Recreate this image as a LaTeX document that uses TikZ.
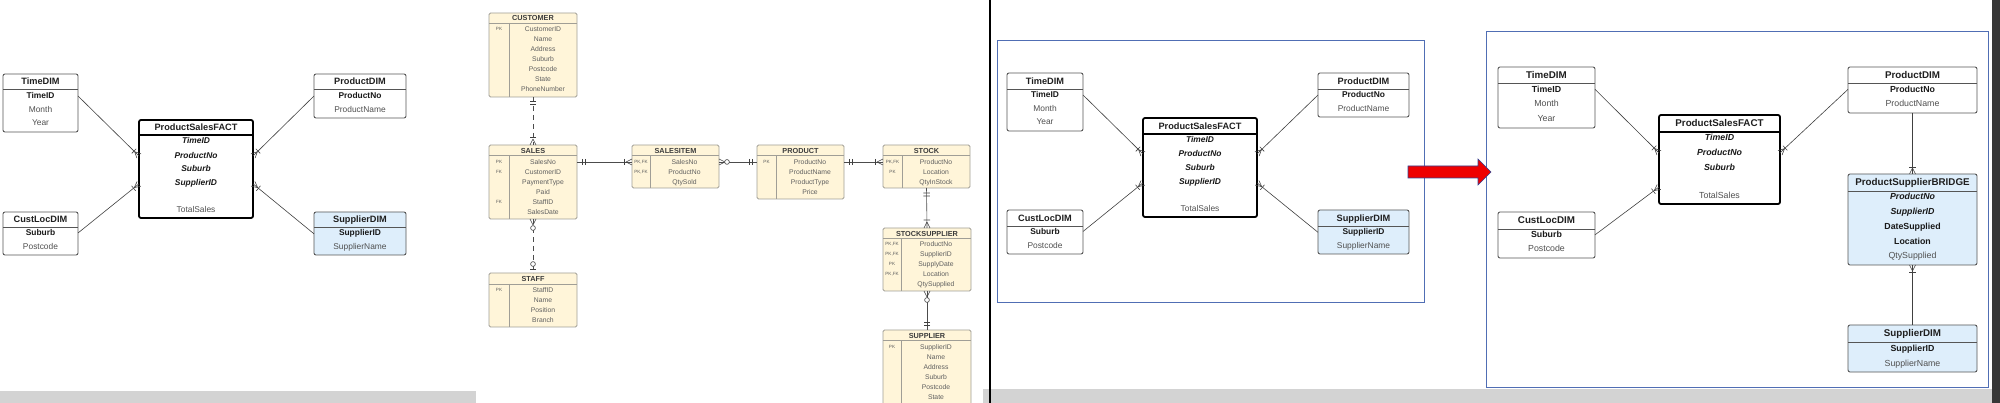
\documentclass[tikz,border=0pt]{standalone}
\usepackage{fontspec}
\setmainfont{Liberation Sans}
\usetikzlibrary{decorations.markings}
\definecolor{erfill}{RGB}{255,245,217}
\definecolor{erdraw}{RGB}{160,158,150}
\definecolor{erdark}{RGB}{60,60,60}
\definecolor{ertext}{RGB}{95,95,95}
\definecolor{dimdraw}{RGB}{85,85,85}
\definecolor{dimtext}{RGB}{80,80,80}
\definecolor{bluefill}{RGB}{222,238,251}
\definecolor{framecol}{RGB}{80,110,180}
\definecolor{barcol}{RGB}{211,211,211}
\definecolor{darkbar}{RGB}{55,55,55}
\definecolor{arrowred}{RGB}{238,0,0}
\definecolor{arrowedge}{RGB}{50,70,150}
\newcommand\boxat[6]{\node[#6, minimum width={(#4)-(#2)}, minimum height={(#5)-(#3)}] (#1) at (#2,#3) {};}
\newcommand\hdiv[3]{\draw[#3] (#1.west |- 0,#2) -- (#1.east |- 0,#2);}
\def\tfs{9.2}\def\rfs{8.4}
\tikzset{
 every node/.style={inner sep=0pt, outer sep=0pt},
 dimbox/.style={draw=dimdraw, line width=0.9pt, rounded corners=2pt, fill=white, anchor=north west},
 bluebox/.style={dimbox, fill=bluefill},
 factbox/.style={dimbox, draw=black, line width=1.8pt},
 erbox/.style={draw=erdraw, line width=0.8pt, rounded corners=1.5pt, fill=erfill, anchor=north west},
 dimline/.style={draw=dimdraw, line width=0.9pt},
 factline/.style={draw=black, line width=1.8pt},
 erline/.style={draw=erdraw, line width=0.8pt},
 ttl/.style={font=\fontsize{\tfs}{\tfs}\selectfont\bfseries, text=black!88, anchor=base, yshift=-3.3pt},
 kr/.style={font=\fontsize{\rfs}{\rfs}\selectfont\bfseries, text=black!90, anchor=base, yshift=-3pt},
 fk/.style={font=\fontsize{\rfs}{\rfs}\selectfont\bfseries\itshape, text=black!90, anchor=base, yshift=-3pt},
 pr/.style={font=\fontsize{\rfs}{\rfs}\selectfont, text=dimtext, anchor=base, yshift=-3pt},
 ert/.style={font=\fontsize{7.3}{7.3}\selectfont\bfseries, text=erdark, anchor=base, yshift=-2.6pt},
 err/.style={font=\fontsize{6.8}{6.8}\selectfont, text=ertext, anchor=base, yshift=-2.4pt},
 erk/.style={font=\fontsize{4.6}{4.6}\selectfont, text=ertext, anchor=base, yshift=-1.7pt},
 conn/.style={draw=black!75, line width=0.6pt},
 erconn/.style={draw=black!70, line width=0.6pt},
 dashline/.style={dash pattern=on 5pt off 4pt},
 crowE/.style={postaction={decorate,decoration={markings,mark=at position 1 with {\draw[solid,line width=0.6pt,black!75] (-6,0)--(0,3) (-6,0)--(0,-3);}}}},
 crowS/.style={postaction={decorate,decoration={markings,mark=at position 0 with {\draw[solid,line width=0.6pt,black!75] (6,0)--(0,3) (6,0)--(0,-3);}}}},
 barE/.style={postaction={decorate,decoration={markings,mark=at position 1 with {\draw[solid,line width=0.6pt,black!75] (-#1,-3.2)--(-#1,3.2);}}}},
 barS/.style={postaction={decorate,decoration={markings,mark=at position 0 with {\draw[solid,line width=0.6pt,black!75] (#1,-3.2)--(#1,3.2);}}}},
 circE/.style={postaction={decorate,decoration={markings,mark=at position 1 with {\draw[solid,line width=0.6pt,black!75,fill=white] (-#1,0) circle (2.4);}}}},
 circS/.style={postaction={decorate,decoration={markings,mark=at position 0 with {\draw[solid,line width=0.6pt,black!75,fill=white] (#1,0) circle (2.4);}}}},
}
\begin{document}
\begin{tikzpicture}[x=1pt,y=-1pt]
\useasboundingbox (0,0) rectangle (2000,403);
% background bars
\fill[barcol] (0,391) rectangle (476,403);
\fill[barcol] (983,389) rectangle (1992,403);
\fill[darkbar] (1992,0) rectangle (2000,403);
\fill[black] (988.8,0) rectangle (991.2,403);

% ================= PANEL 1 : star schema =================
\boxat{p1t}{3}{74}{78}{132}{dimbox}
\hdiv{p1t}{89}{dimline}
\node[ttl] (p1tT) at (p1t.north |- 0,81.5) {TimeDIM};
\node[kr] (p1tid) at (p1t.north |- 0,96) {TimeID};
\node[pr] (p1tm) at (p1t.north |- 0,110) {Month};
\node[pr] (p1ty) at (p1t.north |- 0,123) {Year};

\boxat{p1p}{314}{74}{406}{118}{dimbox}
\hdiv{p1p}{89}{dimline}
\node[ttl] (p1pT) at (p1p.north |- 0,81.5) {ProductDIM};
\node[kr] (p1ppn) at (p1p.north |- 0,96) {ProductNo};
\node[pr] (p1ppname) at (p1p.north |- 0,110) {ProductName};

\boxat{p1f}{139}{120}{253}{218}{factbox}
\hdiv{p1f}{135}{factline}
\node[ttl] (p1fT) at (p1f.north |- 0,127.5) {ProductSalesFACT};
\node[fk] (p1ftid) at (p1f.north |- 0,141) {TimeID};
\node[fk] (p1fpn) at (p1f.north |- 0,156) {ProductNo};
\node[fk] (p1fsub) at (p1f.north |- 0,169) {Suburb};
\node[fk] (p1fsid) at (p1f.north |- 0,183) {SupplierID};
\node[pr] (p1fts) at (p1f.north |- 0,210) {TotalSales};

\boxat{p1c}{3}{212}{78}{255}{dimbox}
\hdiv{p1c}{227}{dimline}
\node[ttl] (p1cT) at (p1c.north |- 0,219.5) {CustLocDIM};
\node[kr] (p1csub) at (p1c.north |- 0,233) {Suburb};
\node[pr] (p1cpc) at (p1c.north |- 0,247) {Postcode};

\boxat{p1s}{314}{212}{406}{255}{bluebox}
\hdiv{p1s}{227}{dimline}
\node[ttl] (p1sT) at (p1s.north |- 0,219.5) {SupplierDIM};
\node[kr] (p1ssid) at (p1s.north |- 0,233) {SupplierID};
\node[pr] (p1ssn) at (p1s.north |- 0,247) {SupplierName};

\draw[conn, crowE, barE=7] (p1t.east |- p1tid) -- (p1f.west |- p1fpn);
\draw[conn, crowE, barE=7] (p1c.east |- p1csub) -- (p1f.west |- p1fsid);
\draw[conn, crowE, barE=7] (p1p.west |- p1ppn) -- (p1f.east |- p1fpn);
\draw[conn, crowE, barE=7] (p1s.west |- p1ssid) -- (p1f.east |- p1fsid);

% ================= ER diagram =================
% CUSTOMER
\boxat{cus}{489}{13}{577}{97}{erbox}
\hdiv{cus}{23}{erline}
\draw[erline] (509,23) -- (509,97);
\node[ert] (cusT) at (cus.north |- 0,18) {CUSTOMER};
\node[erk] (cusk1) at (499,29) {PK};
\node[err] (cus1) at (543,29) {CustomerID};
\node[err] (cus2) at (543,39.1) {Name};
\node[err] (cus3) at (543,49.2) {Address};
\node[err] (cus4) at (543,59.3) {Suburb};
\node[err] (cus5) at (543,69.4) {Postcode};
\node[err] (cus6) at (543,79.5) {State};
\node[err] (cus7) at (543,89.6) {PhoneNumber};
% SALES
\boxat{sal}{489}{145}{577}{219}{erbox}
\hdiv{sal}{155.5}{erline}
\draw[erline] (509,155.5) -- (509,219);
\node[ert] (salT) at (sal.north |- 0,150.5) {SALES};
\node[erk] (salk1) at (499,162) {PK};
\node[erk] (salk2) at (499,172) {FK};
\node[erk] (salk5) at (499,202) {FK};
\node[err] (sal1) at (543,162) {SalesNo};
\node[err] (sal2) at (543,172) {CustomerID};
\node[err] (sal3) at (543,182) {PaymentType};
\node[err] (sal4) at (543,192) {Paid};
\node[err] (sal5) at (543,202) {StaffID};
\node[err] (sal6) at (543,212) {SalesDate};
% STAFF
\boxat{stf}{489}{273}{577}{327}{erbox}
\hdiv{stf}{284}{erline}
\draw[erline] (509,284) -- (509,327);
\node[ert] (stfT) at (stf.north |- 0,278.8) {STAFF};
\node[erk] (stfk1) at (499,290) {PK};
\node[err] (stf1) at (543,290) {StaffID};
\node[err] (stf2) at (543,300) {Name};
\node[err] (stf3) at (543,310) {Position};
\node[err] (stf4) at (543,320) {Branch};
% SALESITEM
\boxat{si}{632}{145}{719}{188}{erbox}
\hdiv{si}{155.5}{erline}
\draw[erline] (650,155.5) -- (650,188);
\node[ert] (siT) at (si.north |- 0,150.5) {SALESITEM};
\node[erk] (sik1) at (641,162) {PK,FK};
\node[erk] (sik2) at (641,172) {PK,FK};
\node[err] (si1) at (684.5,162) {SalesNo};
\node[err] (si2) at (684.5,172) {ProductNo};
\node[err] (si3) at (684.5,182) {QtySold};
% PRODUCT
\boxat{prd}{757}{145}{844}{199}{erbox}
\hdiv{prd}{155.5}{erline}
\draw[erline] (776,155.5) -- (776,199);
\node[ert] (prdT) at (prd.north |- 0,150.5) {PRODUCT};
\node[erk] (prdk1) at (766.5,162) {PK};
\node[err] (prd1) at (810,162) {ProductNo};
\node[err] (prd2) at (810,172) {ProductName};
\node[err] (prd3) at (810,182) {ProductType};
\node[err] (prd4) at (810,192) {Price};
% STOCK
\boxat{stk}{883}{145}{970}{188}{erbox}
\hdiv{stk}{155.5}{erline}
\draw[erline] (902,155.5) -- (902,188);
\node[ert] (stkT) at (stk.north |- 0,150.5) {STOCK};
\node[erk] (stkk1) at (892.5,162) {PK,FK};
\node[erk] (stkk2) at (892.5,172) {PK};
\node[err] (stk1) at (936,162) {ProductNo};
\node[err] (stk2) at (936,172) {Location};
\node[err] (stk3) at (936,182) {QtyInStock};
% STOCKSUPPLIER
\boxat{ss}{883}{228}{971}{291}{erbox}
\hdiv{ss}{238.5}{erline}
\draw[erline] (901,238.5) -- (901,291);
\node[ert] (ssT) at (ss.north |- 0,233.5) {STOCKSUPPLIER};
\node[erk] (ssk1) at (892,244) {PK,FK};
\node[erk] (ssk2) at (892,254) {PK,FK};
\node[erk] (ssk3) at (892,264) {PK};
\node[erk] (ssk4) at (892,274) {PK,FK};
\node[err] (ss1) at (936,244) {ProductNo};
\node[err] (ss2) at (936,254) {SupplierID};
\node[err] (ss3) at (936,264) {SupplyDate};
\node[err] (ss4) at (936,274) {Location};
\node[err] (ss5) at (936,284) {QtySupplied};
% SUPPLIER
\boxat{sup}{883}{330}{971}{425}{erbox}
\hdiv{sup}{340.5}{erline}
\draw[erline] (901,340.5) -- (901,425);
\node[ert] (supT) at (sup.north |- 0,335.5) {SUPPLIER};
\node[erk] (supk1) at (892,347) {PK};
\node[err] (sup1) at (936,347) {SupplierID};
\node[err] (sup2) at (936,357) {Name};
\node[err] (sup3) at (936,367) {Address};
\node[err] (sup4) at (936,377) {Suburb};
\node[err] (sup5) at (936,387) {Postcode};
\node[err] (sup6) at (936,397) {State};
% ER connectors
\draw[erconn, dashline, barS=4, barS=7, crowE, barE=8] (cus.south) -- (sal.north);
\draw[erconn, dashline, crowS, circS=9, circE=9, barE=3.5] (sal.south) -- (stf.north);
\draw[erconn, barS=5, barS=8, crowE, barE=8] (sal.east |- sal1) -- (si.west |- sal1);
\draw[erconn, crowS, circS=8, barE=5, barE=8] (si.east |- sal1) -- (prd.west |- sal1);
\draw[erconn, barS=5, barS=8, crowE, barE=8] (prd.east |- sal1) -- (stk.west |- sal1);
\draw[erconn, barS=5, barS=8, crowE, barE=8] (stk.south) -- (ss.north);
\draw[erconn, crowS, circS=9, barE=5, barE=8] (ss.south) -- (sup.north);

% ================= PANEL 2 =================
\draw[framecol, line width=1pt] (997,41) rectangle (1424,303);
\boxat{p2t}{1007}{73}{1083}{131}{dimbox}
\hdiv{p2t}{89}{dimline}
\node[ttl] (p2tT) at (p2t.north |- 0,81) {TimeDIM};
\node[kr] (p2tid) at (p2t.north |- 0,95) {TimeID};
\node[pr] (p2tm) at (p2t.north |- 0,108.5) {Month};
\node[pr] (p2ty) at (p2t.north |- 0,122) {Year};

\boxat{p2p}{1318}{73}{1409}{117}{dimbox}
\hdiv{p2p}{89}{dimline}
\node[ttl] (p2pT) at (p2p.north |- 0,81) {ProductDIM};
\node[kr] (p2ppn) at (p2p.north |- 0,95) {ProductNo};
\node[pr] (p2ppname) at (p2p.north |- 0,108.5) {ProductName};

\boxat{p2f}{1143}{118}{1257}{217}{factbox}
\hdiv{p2f}{134}{factline}
\node[ttl] (p2fT) at (p2f.north |- 0,126) {ProductSalesFACT};
\node[fk] (p2ftid) at (p2f.north |- 0,140) {TimeID};
\node[fk] (p2fpn) at (p2f.north |- 0,154) {ProductNo};
\node[fk] (p2fsub) at (p2f.north |- 0,168) {Suburb};
\node[fk] (p2fsid) at (p2f.north |- 0,182) {SupplierID};
\node[pr] (p2fts) at (p2f.north |- 0,209) {TotalSales};

\boxat{p2c}{1007}{210}{1083}{254}{dimbox}
\hdiv{p2c}{226}{dimline}
\node[ttl] (p2cT) at (p2c.north |- 0,218) {CustLocDIM};
\node[kr] (p2csub) at (p2c.north |- 0,231.5) {Suburb};
\node[pr] (p2cpc) at (p2c.north |- 0,245.5) {Postcode};

\boxat{p2s}{1318}{210}{1409}{254}{bluebox}
\hdiv{p2s}{226}{dimline}
\node[ttl] (p2sT) at (p2s.north |- 0,218) {SupplierDIM};
\node[kr] (p2ssid) at (p2s.north |- 0,231.5) {SupplierID};
\node[pr] (p2ssn) at (p2s.north |- 0,245.5) {SupplierName};

\draw[conn, crowE, barE=7] (p2t.east |- p2tid) -- (p2f.west |- p2fpn);
\draw[conn, crowE, barE=7] (p2c.east |- p2csub) -- (p2f.west |- p2fsid);
\draw[conn, crowE, barE=7] (p2p.west |- p2ppn) -- (p2f.east |- p2fpn);
\draw[conn, crowE, barE=7] (p2s.west |- p2ssid) -- (p2f.east |- p2fsid);

% ================= PANEL 3 =================
\draw[framecol, line width=1pt] (1486,32) rectangle (1988,387);
\begin{scope}
\def\tfs{9.8}\def\rfs{8.8}
\boxat{p3t}{1498}{67}{1595}{128}{dimbox}
\hdiv{p3t}{83}{dimline}
\node[ttl] (p3tT) at (p3t.north |- 0,75) {TimeDIM};
\node[kr] (p3tid) at (p3t.north |- 0,89.5) {TimeID};
\node[pr] (p3tm) at (p3t.north |- 0,104) {Month};
\node[pr] (p3ty) at (p3t.north |- 0,119) {Year};

\boxat{p3p}{1848}{67}{1977}{113}{dimbox}
\hdiv{p3p}{83}{dimline}
\node[ttl] (p3pT) at (p3p.north |- 0,75) {ProductDIM};
\node[kr] (p3ppn) at (p3p.north |- 0,89.5) {ProductNo};
\node[pr] (p3ppname) at (p3p.north |- 0,104) {ProductName};

\boxat{p3f}{1659}{115}{1780}{204}{factbox}
\hdiv{p3f}{132}{factline}
\node[ttl] (p3fT) at (p3f.north |- 0,123.5) {ProductSalesFACT};
\node[fk] (p3ftid) at (p3f.north |- 0,138) {TimeID};
\node[fk] (p3fpn) at (p3f.north |- 0,153) {ProductNo};
\node[fk] (p3fsub) at (p3f.north |- 0,168) {Suburb};
\node[pr] (p3fgap) at (p3f.north |- 0,184) {};
\node[pr] (p3fts) at (p3f.north |- 0,196) {TotalSales};

\boxat{p3c}{1498}{212}{1595}{258}{dimbox}
\hdiv{p3c}{229}{dimline}
\node[ttl] (p3cT) at (p3c.north |- 0,220.5) {CustLocDIM};
\node[kr] (p3csub) at (p3c.north |- 0,235) {Suburb};
\node[pr] (p3cpc) at (p3c.north |- 0,249) {Postcode};

\boxat{p3b}{1848}{174}{1977}{265}{bluebox}
\hdiv{p3b}{191}{dimline}
\node[ttl] (p3bT) at (p3b.north |- 0,182.5) {ProductSupplierBRIDGE};
\node[fk] (p3bpn) at (p3b.north |- 0,196.5) {ProductNo};
\node[fk] (p3bsid) at (p3b.north |- 0,211.5) {SupplierID};
\node[kr] (p3bds) at (p3b.north |- 0,226.5) {DateSupplied};
\node[kr] (p3bloc) at (p3b.north |- 0,241.5) {Location};
\node[pr] (p3bqty) at (p3b.north |- 0,256) {QtySupplied};

\boxat{p3s}{1848}{325}{1977}{372}{bluebox}
\hdiv{p3s}{342}{dimline}
\node[ttl] (p3sT) at (p3s.north |- 0,333.5) {SupplierDIM};
\node[kr] (p3ssid) at (p3s.north |- 0,348.5) {SupplierID};
\node[pr] (p3ssn) at (p3s.north |- 0,363) {SupplierName};
\end{scope}

\draw[conn, crowE, barE=7] (p3t.east |- p3tid) -- (p3f.west |- p3fpn);
\draw[conn, crowE, barE=7] (p3c.east |- p3csub) -- (p3f.west |- p3fgap);
\draw[conn, crowE, barE=7] (p3p.west |- p3ppn) -- (p3f.east |- p3fpn);
\draw[conn, crowE, barE=7] (p3p.south) -- (p3b.north);
\draw[conn, crowE, barE=7] (p3s.north) -- (p3b.south);

% red arrow
\draw[fill=arrowred, draw=arrowedge, line width=0.6pt] (1408,166) -- (1478,166) -- (1478,159) -- (1491,172) -- (1478,185) -- (1478,178) -- (1408,178) -- cycle;
\end{tikzpicture}
\end{document}
